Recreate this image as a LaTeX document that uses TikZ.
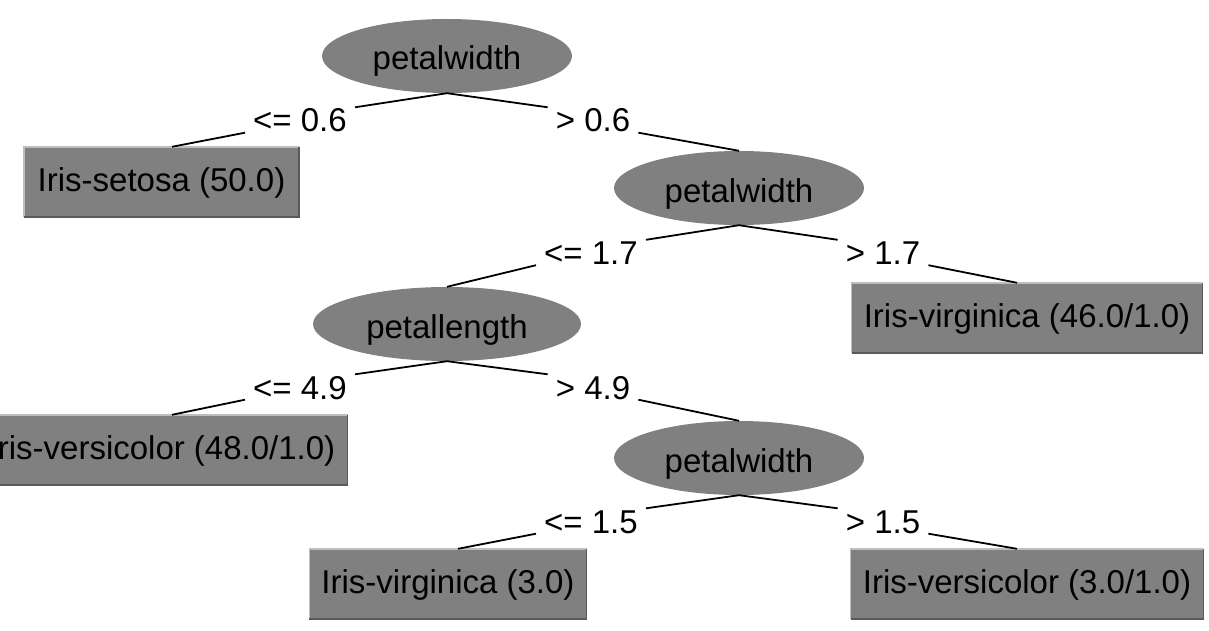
\documentclass[tikz,border=0pt]{standalone}
\usepackage{fontspec}
\setmainfont{Liberation Sans}
\usetikzlibrary{shapes.geometric}
\definecolor{nodegray}{RGB}{128,128,128}
\definecolor{edgelight}{RGB}{190,190,190}
\definecolor{edgedark}{RGB}{90,90,90}
\tikzset{
  every node/.style={font=\fontsize{33}{38}\selectfont, text=black},
  split/.style={ellipse, fill=nodegray, inner sep=0pt, minimum height=74pt, text height=28pt, text depth=0pt},
  leaf/.style={rectangle, fill=nodegray, inner xsep=12pt, inner ysep=0pt, minimum height=70pt, text height=19pt, text depth=0pt},
  cond/.style={inner xsep=8pt, inner ysep=0.5pt, text height=24pt, text depth=0pt},
  edge/.style={draw=black, line width=1.8pt},
  hilite/.style={draw=edgelight, line width=1.5pt},
  shade/.style={draw=edgedark, line width=1.5pt}
}
\begin{document}
\begin{tikzpicture}[x=1pt,y=-1pt]
\useasboundingbox (0,0) rectangle (1209,631);
\fill[white] (0,0) rectangle (1209,631);
\clip (0,0) rectangle (1209,631);
% split nodes
\node[split, minimum width=250pt] (root) at (447,56) {petalwidth};
\node[split, minimum width=250pt] (pw2) at (739,188) {petalwidth};
\node[split, minimum width=268pt] (pl) at (447,324) {petallength};
\node[split, minimum width=250pt] (pw3) at (739,458) {petalwidth};
% leaves
\node[leaf, minimum width=275pt] (setosa) at (161.5,182) {Iris-setosa (50.0)};
\node[leaf, minimum width=348pt] (virg46) at (1027,318) {Iris-virginica (46.0/1.0)};
\node[leaf, minimum width=370pt] (vers48) at (162,450) {Iris-versicolor (48.0/1.0)};
\node[leaf, minimum width=274pt] (virg3) at (448,584) {Iris-virginica (3.0)};
\node[leaf, minimum width=348pt] (vers3) at (1027,584) {Iris-versicolor (3.0/1.0)};
\foreach \n in {setosa,virg46,vers48,virg3,vers3}{
  \draw[hilite] (\n.south west) -- (\n.north west) -- (\n.north east);
  \draw[shade] (\n.north east) -- (\n.south east) -- (\n.south west);
}
% condition labels
\node[cond] (l1) at (300,120) {<= 0.6};
\node[cond] (r1) at (593,120) {> 0.6};
\node[cond] (l2) at (591,252.5) {<= 1.7};
\node[cond] (r2) at (883,252.5) {> 1.7};
\node[cond] (l3) at (300,387) {<= 4.9};
\node[cond] (r3) at (593,387) {> 4.9};
\node[cond] (l4) at (591,521) {<= 1.5};
\node[cond] (r4) at (883,521) {> 1.5};
% edges
\draw[edge] (root.south) -- (l1.north east);
\draw[edge] (l1.south west) -- ([xshift=10.5pt]setosa.north);
\draw[edge] (root.south) -- (r1.north west);
\draw[edge] (r1.south east) -- (pw2.north);
\draw[edge] (pw2.south) -- (l2.north east);
\draw[edge] (l2.south west) -- (pl.north);
\draw[edge] (pw2.south) -- (r2.north west);
\draw[edge] (r2.south east) -- ([xshift=-10pt]virg46.north);
\draw[edge] (pl.south) -- (l3.north east);
\draw[edge] (l3.south west) -- ([xshift=10pt]vers48.north);
\draw[edge] (pl.south) -- (r3.north west);
\draw[edge] (r3.south east) -- (pw3.north);
\draw[edge] (pw3.south) -- (l4.north east);
\draw[edge] (l4.south west) -- ([xshift=10pt]virg3.north);
\draw[edge] (pw3.south) -- (r4.north west);
\draw[edge] (r4.south east) -- ([xshift=-10pt]vers3.north);
\end{tikzpicture}
\end{document}
